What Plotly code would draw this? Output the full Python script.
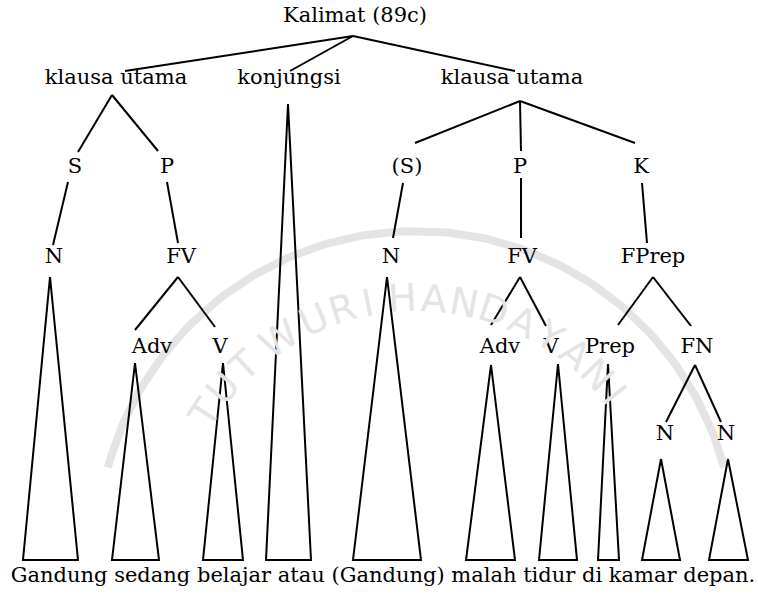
import math
import plotly.graph_objects as go

# ---- node labels (text) ----
labels = ["Kalimat (89c)", "klausa utama", "konjungsi", "klausa utama",
          "S", "P", "(S)", "P", "K",
          "N", "FV", "N", "FV", "FPrep",
          "Adv", "V", "Adv", "V", "Prep", "FN",
          "N", "N"]
label_x = [355, 116, 289, 512,
           75, 167, 407, 520, 641,
           54, 181, 391, 522, 653,
           152, 220, 500, 551, 610, 697,
           665, 726]
label_y = [17, 79, 79, 79,
           168, 168, 168, 168, 168,
           258, 258, 258, 258, 258,
           348, 348, 348, 348, 348, 348,
           435, 435]

# ---- branch lines (start -> end) ----
edge_x0 = [353, 353, 353, 112, 112, 520, 520, 520, 68, 167, 403, 521, 642, 178, 178, 520, 520, 653, 653, 695, 695]
edge_y0 = [36, 36, 36, 95, 95, 101, 101, 101, 182, 182, 183, 178, 183, 277, 277, 277, 277, 277, 277, 365, 365]
edge_x1 = [125, 290, 515, 78, 158, 415, 521, 635, 53, 178, 393, 521, 647, 135, 215, 491, 546, 618, 691, 666, 721]
edge_y1 = [71, 71, 71, 152, 151, 143, 151, 143, 245, 243, 238, 238, 243, 330, 327, 325, 326, 325, 326, 422, 422]

# ---- triangles (apex, base) ----
tri_apex_x = [50, 135, 223, 288, 387, 491, 558, 608, 661, 728]
tri_apex_y = [277, 363, 363, 104, 277, 365, 364, 364, 459, 459]
tri_left = [23, 112, 203, 266, 353, 466, 539, 598, 642, 709]
tri_right = [78, 159, 243, 311, 421, 515, 577, 619, 680, 748]
tri_base_y = [560] * 10

sentence = "Gandung sedang belajar atau (Gandung) malah tidur di kamar depan."
sentence_x = 383
sentence_y = 577

# ---- faint background watermark (scanned-page logo) ----
wm_letters = ["T", "U", "T", "W", "U", "R", "I", "H", "A", "N", "D", "A", "Y", "A", "N", "I"]
wm_angles = [147, 140, 133, 123, 114, 107, 101, 93, 86, 79, 72, 65, 58, 51, 44, 38]
wm_center = (416, 550)
wm_radius = 252
wm_ring_radius = 319
wm_ring_from, wm_ring_to = 15, 165

FONT = "DejaVu Serif"
WM_COLOR = "#e4e4e4"

fig = go.Figure()

# watermark ring (decorative, under the tree)
ring_x, ring_y = [], []
steps = 150
for k in range(steps + 1):
    a = math.radians(wm_ring_from + k * (wm_ring_to - wm_ring_from) / steps)
    ring_x.append(wm_center[0] + wm_ring_radius * math.cos(a))
    ring_y.append(wm_center[1] - wm_ring_radius * math.sin(a))
fig.add_trace(go.Scatter(x=ring_x, y=ring_y, mode="lines",
                         line=dict(color=WM_COLOR, width=8), hoverinfo="skip"))

# edges
ex, ey = [], []
for a, b, c, d in zip(edge_x0, edge_y0, edge_x1, edge_y1):
    ex += [a, c, None]
    ey += [b, d, None]
fig.add_trace(go.Scatter(x=ex, y=ey, mode="lines",
                         line=dict(color="black", width=2), hoverinfo="skip"))

# triangles
tx, ty = [], []
for ax_, ay_, l, r, by in zip(tri_apex_x, tri_apex_y, tri_left, tri_right, tri_base_y):
    tx += [ax_, l, r, ax_, None]
    ty += [ay_, by, by, ay_, None]
fig.add_trace(go.Scatter(x=tx, y=ty, mode="lines",
                         line=dict(color="black", width=2), hoverinfo="skip"))

# watermark letters (rotated along the arc)
for ch, ang in zip(wm_letters, wm_angles):
    a = math.radians(ang)
    fig.add_annotation(x=wm_center[0] + wm_radius * math.cos(a),
                       y=wm_center[1] - wm_radius * math.sin(a),
                       text=ch, showarrow=False, textangle=90 - ang,
                       font=dict(family="DejaVu Sans", size=38, color=WM_COLOR))

# labels
fig.add_trace(go.Scatter(x=label_x, y=label_y, mode="text", text=labels,
                         textposition="middle center", cliponaxis=False,
                         textfont=dict(family=FONT, size=21, color="black"),
                         hoverinfo="skip"))

fig.add_trace(go.Scatter(x=[sentence_x], y=[sentence_y], mode="text", text=[sentence],
                         textposition="middle center", cliponaxis=False,
                         textfont=dict(family=FONT, size=21, color="black"),
                         hoverinfo="skip"))

W, H = 758, 601
fig.update_layout(
    width=W, height=H, autosize=False,
    margin=dict(l=0, r=0, t=0, b=0),
    paper_bgcolor="white", plot_bgcolor="white",
    showlegend=False,
    xaxis=dict(range=[0, W], visible=False, fixedrange=True),
    yaxis=dict(range=[H, 0], visible=False, fixedrange=True),
)

fig.write_html("out.html", config={"displayModeBar": False},
               post_script="document.body.style.margin='0px';"
                           "document.body.style.overflow='hidden';")
